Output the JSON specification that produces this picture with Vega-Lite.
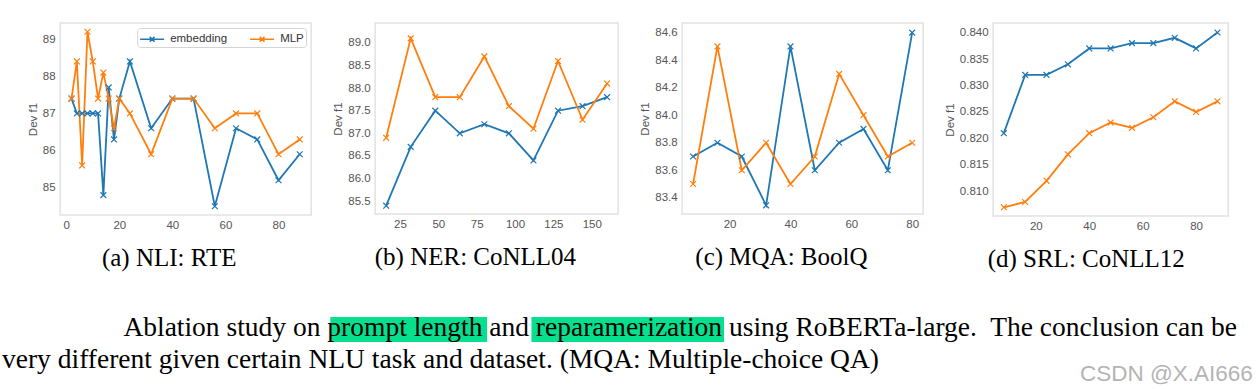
{
  "$schema": "https://vega.github.io/schema/vega-lite/v6.json",
  "background": "white",
  "padding": {"left": 2, "top": 22, "right": 0, "bottom": 0},
  "datasets": {
    "rte": [
      {"method": "embedding", "len": 2, "f1": 87.4}, {"method": "embedding", "len": 4, "f1": 87.0}, {"method": "embedding", "len": 6, "f1": 87.0}, {"method": "embedding", "len": 8, "f1": 87.0}, {"method": "embedding", "len": 10, "f1": 87.0}, {"method": "embedding", "len": 12, "f1": 87.0}, {"method": "embedding", "len": 14, "f1": 84.8}, {"method": "embedding", "len": 16, "f1": 87.7}, {"method": "embedding", "len": 18, "f1": 86.3}, {"method": "embedding", "len": 20, "f1": 87.4}, {"method": "embedding", "len": 24, "f1": 88.4}, {"method": "embedding", "len": 32, "f1": 86.6}, {"method": "embedding", "len": 40, "f1": 87.4}, {"method": "embedding", "len": 48, "f1": 87.4}, {"method": "embedding", "len": 56, "f1": 84.5}, {"method": "embedding", "len": 64, "f1": 86.6}, {"method": "embedding", "len": 72, "f1": 86.3}, {"method": "embedding", "len": 80, "f1": 85.2}, {"method": "embedding", "len": 88, "f1": 85.9},
      {"method": "MLP", "len": 2, "f1": 87.4}, {"method": "MLP", "len": 4, "f1": 88.4}, {"method": "MLP", "len": 6, "f1": 85.6}, {"method": "MLP", "len": 8, "f1": 89.2}, {"method": "MLP", "len": 10, "f1": 88.4}, {"method": "MLP", "len": 12, "f1": 87.4}, {"method": "MLP", "len": 14, "f1": 88.1}, {"method": "MLP", "len": 16, "f1": 87.4}, {"method": "MLP", "len": 18, "f1": 86.6}, {"method": "MLP", "len": 20, "f1": 87.4}, {"method": "MLP", "len": 24, "f1": 87.0}, {"method": "MLP", "len": 32, "f1": 85.9}, {"method": "MLP", "len": 40, "f1": 87.4}, {"method": "MLP", "len": 48, "f1": 87.4}, {"method": "MLP", "len": 56, "f1": 86.6}, {"method": "MLP", "len": 64, "f1": 87.0}, {"method": "MLP", "len": 72, "f1": 87.0}, {"method": "MLP", "len": 80, "f1": 85.9}, {"method": "MLP", "len": 88, "f1": 86.3}
    ],
    "conll04": [
      {"method": "embedding", "len": 16, "f1": 85.4}, {"method": "embedding", "len": 32, "f1": 86.7}, {"method": "embedding", "len": 48, "f1": 87.5}, {"method": "embedding", "len": 64, "f1": 87.0}, {"method": "embedding", "len": 80, "f1": 87.2}, {"method": "embedding", "len": 96, "f1": 87.0}, {"method": "embedding", "len": 112, "f1": 86.4}, {"method": "embedding", "len": 128, "f1": 87.5}, {"method": "embedding", "len": 144, "f1": 87.6}, {"method": "embedding", "len": 160, "f1": 87.8},
      {"method": "MLP", "len": 16, "f1": 86.9}, {"method": "MLP", "len": 32, "f1": 89.1}, {"method": "MLP", "len": 48, "f1": 87.8}, {"method": "MLP", "len": 64, "f1": 87.8}, {"method": "MLP", "len": 80, "f1": 88.7}, {"method": "MLP", "len": 96, "f1": 87.6}, {"method": "MLP", "len": 112, "f1": 87.1}, {"method": "MLP", "len": 128, "f1": 88.6}, {"method": "MLP", "len": 144, "f1": 87.3}, {"method": "MLP", "len": 160, "f1": 88.1}
    ],
    "boolq": [
      {"method": "embedding", "len": 8, "f1": 83.7}, {"method": "embedding", "len": 16, "f1": 83.8}, {"method": "embedding", "len": 24, "f1": 83.7}, {"method": "embedding", "len": 32, "f1": 83.345}, {"method": "embedding", "len": 40, "f1": 84.5}, {"method": "embedding", "len": 48, "f1": 83.6}, {"method": "embedding", "len": 56, "f1": 83.8}, {"method": "embedding", "len": 64, "f1": 83.9}, {"method": "embedding", "len": 72, "f1": 83.6}, {"method": "embedding", "len": 80, "f1": 84.6},
      {"method": "MLP", "len": 8, "f1": 83.5}, {"method": "MLP", "len": 16, "f1": 84.5}, {"method": "MLP", "len": 24, "f1": 83.6}, {"method": "MLP", "len": 32, "f1": 83.8}, {"method": "MLP", "len": 40, "f1": 83.5}, {"method": "MLP", "len": 48, "f1": 83.7}, {"method": "MLP", "len": 56, "f1": 84.3}, {"method": "MLP", "len": 64, "f1": 84.0}, {"method": "MLP", "len": 72, "f1": 83.7}, {"method": "MLP", "len": 80, "f1": 83.8}
    ],
    "conll12": [
      {"method": "embedding", "len": 8, "f1": 0.821}, {"method": "embedding", "len": 16, "f1": 0.832}, {"method": "embedding", "len": 24, "f1": 0.832}, {"method": "embedding", "len": 32, "f1": 0.834}, {"method": "embedding", "len": 40, "f1": 0.837}, {"method": "embedding", "len": 48, "f1": 0.837}, {"method": "embedding", "len": 56, "f1": 0.838}, {"method": "embedding", "len": 64, "f1": 0.838}, {"method": "embedding", "len": 72, "f1": 0.839}, {"method": "embedding", "len": 80, "f1": 0.837}, {"method": "embedding", "len": 88, "f1": 0.840},
      {"method": "MLP", "len": 8, "f1": 0.807}, {"method": "MLP", "len": 16, "f1": 0.808}, {"method": "MLP", "len": 24, "f1": 0.812}, {"method": "MLP", "len": 32, "f1": 0.817}, {"method": "MLP", "len": 40, "f1": 0.821}, {"method": "MLP", "len": 48, "f1": 0.823}, {"method": "MLP", "len": 56, "f1": 0.822}, {"method": "MLP", "len": 64, "f1": 0.824}, {"method": "MLP", "len": 72, "f1": 0.827}, {"method": "MLP", "len": 80, "f1": 0.825}, {"method": "MLP", "len": 88, "f1": 0.827}
    ],
    "caption": [
      {"kind": "mark", "line": 1, "col": 28.4, "col_end": 41.96},
      {"kind": "mark", "line": 1, "col": 45.8, "col_end": 62.46},
      {"kind": "text", "line": 1, "col": 10.5, "text": "Ablation study on prompt length and reparamerization using RoBERTa-large.\u00a0 The conclusion can be"},
      {"kind": "text", "line": 2, "col": 0, "text": "very different given certain NLU task and dataset. (MQA: Multiple-choice QA)"},
      {"kind": "watermark", "line": 2.4, "col": 108.2, "text": "CSDN @X.AI666"}
    ]
  },
  "vconcat": [
    {
      "hconcat": [
        {
          "width": 251, "height": 192,
          "data": {"name": "rte"},
          "title": {"text": "(a) NLI: RTE"},
          "encoding": {
            "x": {"field": "len", "type": "quantitative", "scale": {"domain": [-2.3, 92.3], "nice": false, "zero": false}, "axis": {"values": [0, 20, 40, 60, 80], "title": null}},
            "y": {"field": "f1", "type": "quantitative", "scale": {"domain": [84.265, 89.435], "nice": false, "zero": false}, "axis": {"values": [85, 86, 87, 88, 89], "title": "Dev f1"}},
            "color": {"field": "method", "type": "nominal", "scale": {"domain": ["embedding", "MLP"], "range": ["#1f77b4", "#ff7f0e"]},
              "legend": {"title": null, "orient": "top-right", "offset": 5, "direction": "horizontal", "fillColor": "white", "strokeColor": "#d4d4d4", "cornerRadius": 3, "padding": 2, "symbolType": "M-1.5,0H1.5M-0.3,-0.3L0.3,0.3M-0.3,0.3L0.3,-0.3", "symbolSize": 256, "symbolOffset": 4, "symbolStrokeWidth": 1.5, "labelFont": "Liberation Sans", "labelFontSize": 11.5, "labelColor": "#333", "labelOffset": 9, "columnPadding": 20}}
          },
          "layer": [
            {"mark": {"type": "line", "strokeWidth": 1.8}},
            {"mark": {"type": "point", "shape": "M-1,-1L1,1M-1,1L1,-1", "filled": false, "size": 34, "strokeWidth": 1.2, "opacity": 1}}
          ]
        },
        {
          "width": 243, "height": 191,
          "data": {"name": "conll04"},
          "title": {"text": "(b) NER: CoNLL04"},
          "encoding": {
            "x": {"field": "len", "type": "quantitative", "scale": {"domain": [8.8, 167.2], "nice": false, "zero": false}, "axis": {"values": [25, 50, 75, 100, 125, 150], "title": null}},
            "y": {"field": "f1", "type": "quantitative", "scale": {"domain": [85.215, 89.44], "nice": false, "zero": false}, "axis": {"values": [85.5, 86, 86.5, 87, 87.5, 88, 88.5, 89], "format": ".1f", "title": "Dev f1"}},
            "color": {"field": "method", "type": "nominal", "scale": {"domain": ["embedding", "MLP"], "range": ["#1f77b4", "#ff7f0e"]}, "legend": null}
          },
          "layer": [
            {"mark": {"type": "line", "strokeWidth": 1.8}},
            {"mark": {"type": "point", "shape": "M-1,-1L1,1M-1,1L1,-1", "filled": false, "size": 34, "strokeWidth": 1.2, "opacity": 1}}
          ]
        },
        {
          "width": 241, "height": 191,
          "data": {"name": "boolq"},
          "title": {"text": "(c) MQA: BoolQ"},
          "encoding": {
            "x": {"field": "len", "type": "quantitative", "scale": {"domain": [4.4, 83.6], "nice": false, "zero": false}, "axis": {"values": [20, 40, 60, 80], "title": null}},
            "y": {"field": "f1", "type": "quantitative", "scale": {"domain": [83.282, 84.67], "nice": false, "zero": false}, "axis": {"values": [83.4, 83.6, 83.8, 84.0, 84.2, 84.4, 84.6], "format": ".1f", "title": "Dev f1"}},
            "color": {"field": "method", "type": "nominal", "scale": {"domain": ["embedding", "MLP"], "range": ["#1f77b4", "#ff7f0e"]}, "legend": null}
          },
          "layer": [
            {"mark": {"type": "line", "strokeWidth": 1.8}},
            {"mark": {"type": "point", "shape": "M-1,-1L1,1M-1,1L1,-1", "filled": false, "size": 34, "strokeWidth": 1.2, "opacity": 1}}
          ]
        },
        {
          "width": 235, "height": 193,
          "data": {"name": "conll12"},
          "title": {"text": "(d) SRL: CoNLL12"},
          "encoding": {
            "x": {"field": "len", "type": "quantitative", "scale": {"domain": [4, 92], "nice": false, "zero": false}, "axis": {"values": [20, 40, 60, 80], "title": null}},
            "y": {"field": "f1", "type": "quantitative", "scale": {"domain": [0.80535, 0.8418], "nice": false, "zero": false}, "axis": {"values": [0.81, 0.815, 0.82, 0.825, 0.83, 0.835, 0.84], "format": ".3f", "title": "Dev f1"}},
            "color": {"field": "method", "type": "nominal", "scale": {"domain": ["embedding", "MLP"], "range": ["#1f77b4", "#ff7f0e"]}, "legend": null}
          },
          "layer": [
            {"mark": {"type": "line", "strokeWidth": 1.8}},
            {"mark": {"type": "point", "shape": "M-1,-1L1,1M-1,1L1,-1", "filled": false, "size": 34, "strokeWidth": 1.2, "opacity": 1}}
          ]
        }
      ],
      "spacing": 19,
      "align": "none",
      "resolve": {"legend": {"color": "independent"}}
    },
    {
      "width": 1285, "height": 83.2,
      "data": {"name": "caption"},
      "view": {"stroke": null},
      "encoding": {
        "x": {"field": "col", "type": "quantitative", "scale": {"domain": [0, 111.16], "nice": false, "zero": false}, "axis": null},
        "y": {"field": "line", "type": "quantitative", "scale": {"domain": [0, 2.6], "reverse": true, "nice": false, "zero": false}, "axis": null}
      },
      "layer": [
        {
          "transform": [{"filter": "datum.kind === 'mark'"}],
          "mark": {"type": "rule", "color": "#06DF8D", "strokeWidth": 25, "strokeCap": "butt", "yOffset": -6.5},
          "encoding": {"x2": {"field": "col_end"}}
        },
        {
          "transform": [{"filter": "datum.kind === 'text'"}],
          "mark": {"type": "text", "align": "left", "baseline": "alphabetic", "font": "Liberation Serif", "fontSize": 27.5, "color": "#000"},
          "encoding": {"text": {"field": "text"}}
        },
        {
          "transform": [{"filter": "datum.kind === 'watermark'"}],
          "mark": {"type": "text", "align": "right", "baseline": "alphabetic", "font": "Liberation Sans", "fontSize": 22.5, "color": "#b4b4b4"},
          "encoding": {"text": {"field": "text"}}
        }
      ]
    }
  ],
  "spacing": 31,
  "align": "each",
  "center": true,
  "config": {
    "font": "Liberation Sans",
    "view": {"stroke": "#e2e2e2", "strokeWidth": 1.5},
    "axis": {"domain": false, "ticks": false, "grid": false, "labelFont": "Liberation Sans", "labelFontSize": 11.5, "labelColor": "#555", "titleFont": "Liberation Sans", "titleFontSize": 11.5, "titleFontWeight": "normal", "titleColor": "#555"},
    "axisY": {"labelPadding": 5, "titlePadding": 4},
    "axisX": {"labelPadding": 4},
    "title": {"orient": "bottom", "anchor": "middle", "frame": "bounds", "font": "Liberation Serif", "fontSize": 25, "fontWeight": "normal", "color": "#000", "offset": 15, "baseline": "top"}
  }
}
